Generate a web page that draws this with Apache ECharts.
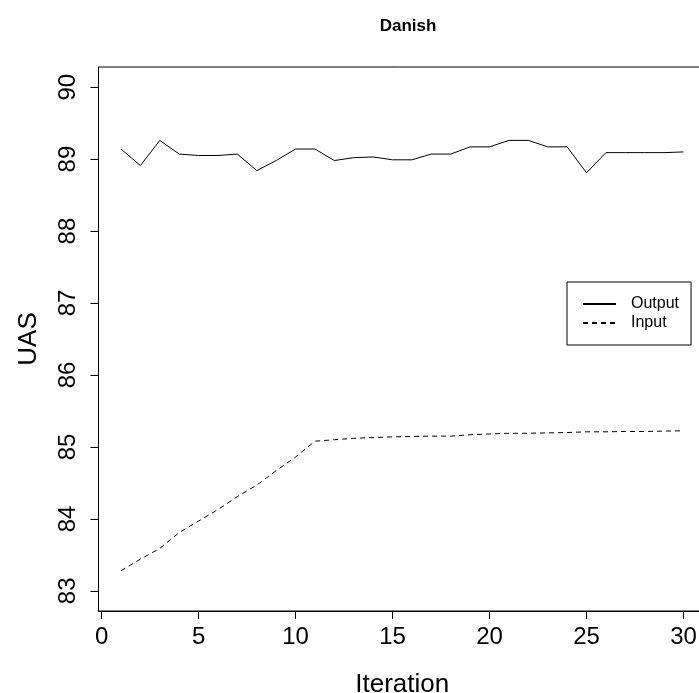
<!DOCTYPE html>
<html>
<head>
<meta charset="utf-8">
<script src="https://cdn.jsdelivr.net/npm/echarts@6/dist/echarts.min.js"></script>
<style>html,body{margin:0;padding:0;background:#fff;}#c{width:699px;height:693px;}</style>
</head>
<body>
<div id="c"></div>
<script>
const iterations = [1,2,3,4,5,6,7,8,9,10,11,12,13,14,15,16,17,18,19,20,21,22,23,24,25,26,27,28,29,30];
const outputUAS = [89.14,88.91,89.26,89.07,89.05,89.05,89.07,88.84,88.98,89.14,89.14,88.98,89.02,89.03,88.99,88.99,89.07,89.07,89.17,89.17,89.26,89.26,89.17,89.17,88.81,89.09,89.09,89.09,89.09,89.10];
const inputUAS = [83.28,83.44,83.59,83.81,83.97,84.13,84.31,84.47,84.67,84.86,85.08,85.10,85.12,85.13,85.14,85.145,85.15,85.15,85.17,85.18,85.19,85.19,85.195,85.20,85.21,85.21,85.215,85.215,85.22,85.225];
const xTicks = [0,5,10,15,20,25,30];
const yTicks = [83,84,85,86,87,88,89,90];
const seriesNames = ['Output','Input'];
const titleText = 'Danish';
const xName = 'Iteration';
const yName = 'UAS';

const FONT = 'Liberation Sans, Arial, Helvetica, sans-serif';
const chart = echarts.init(document.getElementById('c'), null, {renderer:'canvas'});
chart.setOption({
  animation:false,
  backgroundColor:'#fff',
  textStyle:{fontFamily:FONT},
  title:{text:titleText,left:403,top:13,textAlign:'center',
    textStyle:{fontFamily:FONT,fontWeight:'bold',fontSize:17,color:'#000'}},
  grid:{left:98.5,top:67,right:-7,bottom:82,show:true,borderColor:'#000',borderWidth:1,backgroundColor:'transparent',
    outerBoundsMode:'none',containLabel:false},
  legend:{orient:'vertical',left:567,top:282,backgroundColor:'#fff',borderColor:'#000',borderWidth:1,borderRadius:0,
    padding:[14,12,14,15],itemWidth:33,itemHeight:14,itemGap:3,
    itemStyle:{color:'rgba(0,0,0,0)',borderWidth:0},
    textStyle:{fontFamily:FONT,fontSize:16,color:'#000',padding:[0,0,0,10]},
    data:seriesNames},
  xAxis:{type:'value',min:-0.16,max:31.16,
    name:xName,nameLocation:'middle',nameGap:61,
    nameTextStyle:{fontFamily:FONT,fontSize:26,color:'#000'},
    axisLine:{show:true,onZero:false,lineStyle:{color:'#000',width:1}},
    axisTick:{show:true,length:8,customValues:xTicks,lineStyle:{color:'#000'}},
    axisLabel:{customValues:xTicks,fontFamily:FONT,fontSize:24,color:'#000',margin:14},
    splitLine:{show:false}},
  yAxis:{type:'value',min:82.72,max:90.28,
    name:yName,nameLocation:'middle',nameGap:57,
    nameTextStyle:{fontFamily:FONT,fontSize:26,color:'#000'},
    axisLine:{show:true,onZero:false,lineStyle:{color:'#000',width:1}},
    axisTick:{show:true,length:8,customValues:yTicks,lineStyle:{color:'#000'}},
    axisLabel:{customValues:yTicks,rotate:90,fontFamily:FONT,fontSize:24,color:'#000',margin:18},
    splitLine:{show:false}},
  series:[
    {name:seriesNames[0],type:'line',symbol:'none',data:iterations.map((x,i)=>[x,outputUAS[i]]),
      lineStyle:{color:'#000',width:1,type:'solid'},itemStyle:{color:'#000'}},
    {name:seriesNames[1],type:'line',symbol:'none',data:iterations.map((x,i)=>[x,inputUAS[i]]),
      lineStyle:{color:'#000',width:1,type:[5,4]},itemStyle:{color:'#000'}}
  ]
});
</script>
</body>
</html>
